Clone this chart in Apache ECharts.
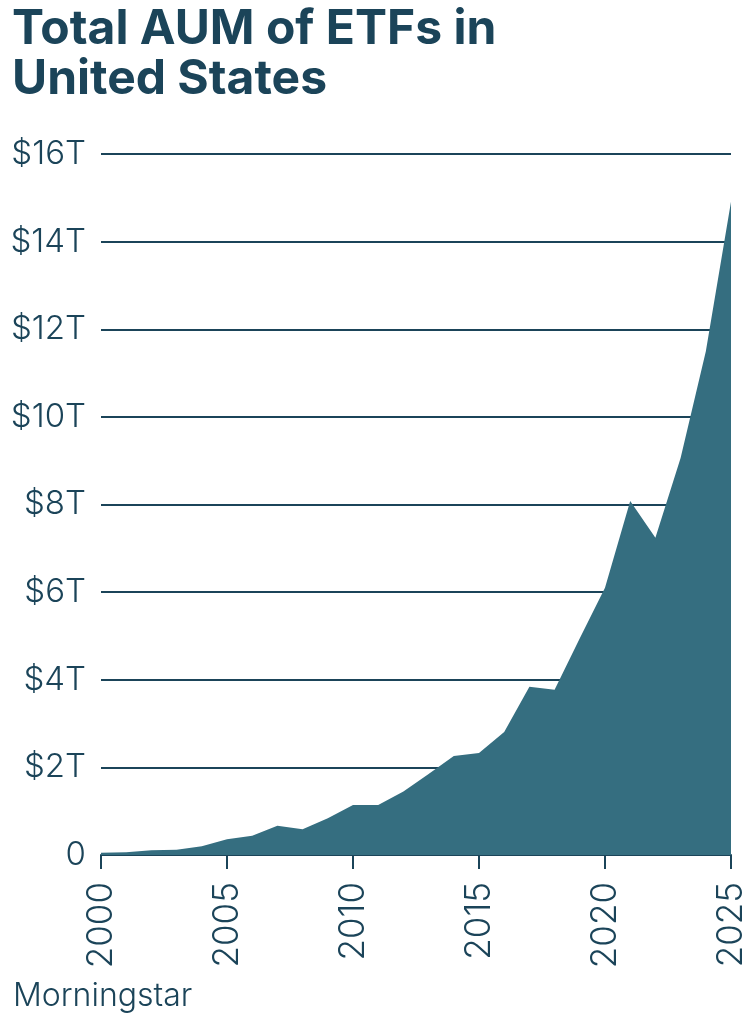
<!DOCTYPE html>
<html>
<head>
<meta charset="utf-8">
<script src="https://cdn.jsdelivr.net/npm/echarts@6/dist/echarts.min.js"></script>
<style>
  html, body { margin: 0; padding: 0; background: #fff; }
  #chart { width: 750px; height: 1020px; }
</style>
</head>
<body>
<div id="chart"></div>
<script>
// US ETF assets, trillions of dollars, year end
var years = [2000, 2001, 2002, 2003, 2004, 2005, 2006, 2007, 2008, 2009,
             2010, 2011, 2012, 2013, 2014, 2015, 2016, 2017, 2018, 2019,
             2020, 2021, 2022, 2023, 2024, 2025];
var aum = [0.05, 0.06, 0.11, 0.12, 0.2, 0.36, 0.44, 0.67, 0.59, 0.84,
           1.14, 1.14, 1.45, 1.85, 2.26, 2.33, 2.81, 3.84, 3.77, 4.95,
           6.1, 8.08, 7.24, 9.06, 11.49, 14.91];
var yTicks = [0, 2, 4, 6, 8, 10, 12, 14, 16];
var xTicks = [2000, 2005, 2010, 2015, 2020, 2025];

var ink = '#1b4459';
var fill = '#356e80';
var font = 'Inter, "Noto Sans", sans-serif';

function fillChart(elementName, option) {
    var dataChart = echarts.init(document.getElementById(elementName));
    if (option && typeof option === "object") {
        dataChart.setOption(option, true);
    }
}

var points = [];
for (var i = 0; i < years.length; i++) {
    points.push([years[i], aum[i]]);
}

var option = {
    animation: false,
    backgroundColor: '#fff',
    title: [{
        text: 'Total AUM of ETFs in\nUnited States',
        left: 7,
        top: 0,
        textStyle: {
            color: ink, fontFamily: font, fontWeight: 700,
            fontSize: 48, lineHeight: 50
        }
    }, {
        text: 'Morningstar',
        left: 8,
        bottom: 3,
        textStyle: {
            color: ink, fontFamily: font, fontWeight: 300, fontSize: 32
        }
    }],
    grid: { left: 101, right: 19, top: 154, bottom: 165 },
    xAxis: {
        type: 'value',
        min: xTicks[0],
        max: xTicks[xTicks.length - 1],
        interval: 5,
        axisLine: { show: true, lineStyle: { color: ink, width: 2 } },
        axisTick: { show: true, length: 14, lineStyle: { color: ink, width: 2 } },
        splitLine: { show: false },
        axisLabel: {
            rotate: 90,
            margin: 27,
            color: ink,
            fontFamily: font,
            fontWeight: 300,
            fontSize: 35,
            formatter: function (v) { return String(v); }
        }
    },
    yAxis: {
        type: 'value',
        min: yTicks[0],
        max: yTicks[yTicks.length - 1],
        interval: 2,
        axisLine: { show: false },
        axisTick: { show: false },
        splitLine: { show: true, lineStyle: { color: ink, width: 2 } },
        axisLabel: {
            margin: 15,
            color: ink,
            fontFamily: font,
            fontWeight: 300,
            fontSize: 33,
            formatter: function (v) { return v === 0 ? '0' : '$' + v + 'T'; }
        }
    },
    series: [{
        type: 'line',
        data: points,
        symbol: 'none',
        lineStyle: { width: 0 },
        areaStyle: { color: fill, opacity: 1 },
        z: 1
    }]
};

fillChart('chart', option);
</script>
</body>
</html>
